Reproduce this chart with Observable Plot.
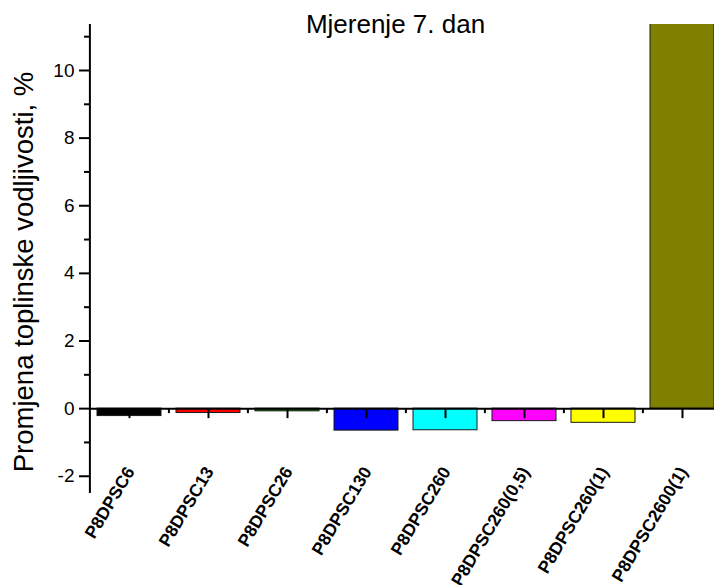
<!DOCTYPE html>
<html><head><meta charset="utf-8">
<script src="https://cdn.jsdelivr.net/npm/d3@7"></script>
<script src="https://cdn.jsdelivr.net/npm/@observablehq/plot@0.6"></script>
<style>html,body{margin:0;padding:0;background:#fff;overflow:hidden}</style>
</head><body><div id="chart"></div>
<script>
const categories = ["P8DPSC6","P8DPSC13","P8DPSC26","P8DPSC130","P8DPSC260","P8DPSC260(0,5)","P8DPSC260(1)","P8DPSC2600(1)"];
const values = [-0.22,-0.13,-0.08,-0.65,-0.64,-0.37,-0.42,11.6];
const colors = ["#000000","#ff0000","#008000","#0000ff","#00ffff","#ff00ff","#ffff00","#808000"];
const majorTicks = [-2,0,2,4,6,8,10];
const minorTicks = [-1,1,3,5,7,9,11];
const title = "Mjerenje 7. dan";
const yLabel = "Promjena toplinske vodljivosti, %";

const data = categories.map((c,i)=>({cat:c, value: values[i], color: colors[i]}));

const W=714, H=585, mL=89, mT=24, mB=92;
const step = 79.2;
const plot = Plot.plot({
  width: W, height: H, marginLeft: mL, marginRight: 0, marginTop: mT, marginBottom: mB,
  style: {fontFamily: "'Liberation Sans', Arial, sans-serif", background: "#fff", color:"#000", overflow:"hidden"},
  x: {type:"band", domain: categories, range: [mL, mL + step*categories.length], paddingInner: 0.19, paddingOuter: 0.095},
  y: {domain: [-2.51, 11.36]},
  marks: [
    Plot.barY(data, {x:"cat", y:"value", fill: "color", stroke:"#1a1a1a", strokeWidth:1, clip:true}),
    Plot.ruleY([0], {stroke:"#000", strokeWidth:2}),
    Plot.ruleX(categories, {x: d=>d, y1:0, y2:0, insetBottom:-10, stroke:"#000", strokeWidth:2}),
    Plot.ruleX(categories.slice(1), {x:d=>d, y1:0, y2:0, insetBottom:-5, dx:-step/2, stroke:"#000", strokeWidth:2}),
    Plot.ruleX(categories.slice(0,1), {x:d=>d, dx:-step/2, stroke:"#000", strokeWidth:2}),
    Plot.axisY({ticks: majorTicks, tickSize:10, tickPadding:5, fontSize:19, strokeWidth:2, label:null,
      tickFormat: d => d < 0 ? "-" + Math.abs(d) : String(d)}),
    Plot.axisY({ticks: minorTicks, tickSize:5, text:null, strokeWidth:2, label:null}),
    Plot.axisX({tickRotate:-59, tickSize:0, tickPadding:0, fontSize:17.5, fontWeight:"bold", dy:-25, dx:1, label:null}),
    Plot.text([title], {frameAnchor:"top", fontSize:26, lineAnchor:"middle", dx:-6.5}),
    Plot.text([yLabel], {frameAnchor:"left", rotate:-90, fontSize:27.5, textAnchor:"middle", lineAnchor:"middle", dx:-65.7, dy:13})
  ]
});
document.getElementById("chart").appendChild(plot);
</script>
</body></html>
